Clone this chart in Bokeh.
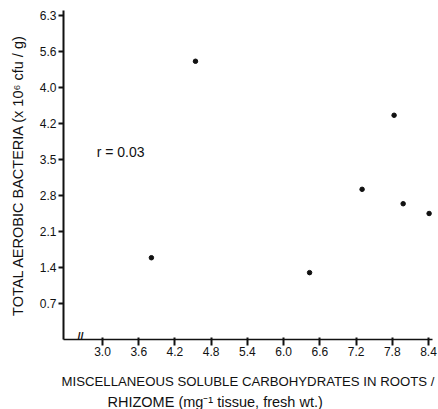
from bokeh.plotting import figure
from bokeh.models import FixedTicker, Label, Range1d, Title, LinearAxis
from bokeh.embed import file_html
from bokeh.resources import INLINE

# ---- data ----
carb = [3.81, 4.54, 6.43, 7.30, 7.83, 7.98, 8.41]
bact = [1.59, 5.41, 1.30, 2.92, 4.36, 2.64, 2.45]

x_ticks = [3.0, 3.6, 4.2, 4.8, 5.4, 6.0, 6.6, 7.2, 7.8, 8.4]
x_tick_labels = ["3.0", "3.6", "4.2", "4.8", "5.4", "6.0", "6.6", "7.2", "7.8", "8.4"]
y_ticks = [0.7, 1.4, 2.1, 2.8, 3.5, 4.2, 4.9, 5.6, 6.3]
y_tick_labels = ["0.7", "1.4", "2.1", "2.8", "3.5", "4.2", "4.0", "5.6", "6.3"]

r_text = "r  =  0.03"
x_title_1 = "MISCELLANEOUS SOLUBLE CARBOHYDRATES IN ROOTS /"
x_title_2 = "RHIZOME (mg\u207b\u00b9 tissue, fresh wt.)"
y_title = "TOTAL AEROBIC BACTERIA (x 10\u2076 cfu / g)"

FONT = "Liberation Sans"
INK = "#111111"

p = figure(width=438, height=409, output_backend="svg", toolbar_location=None,
           x_range=Range1d(2.354, 8.466), y_range=Range1d(0, 6.397),
           x_axis_location=None,
           min_border_left=63, min_border_right=6, min_border_top=10,
           min_border_bottom=70)
p.outline_line_color = None
p.grid.visible = False

p.scatter(carb, bact, size=4.5, color=INK)

xa = LinearAxis(ticker=FixedTicker(ticks=x_ticks),
                major_label_overrides={t: l for t, l in zip(x_ticks, x_tick_labels)})
p.add_layout(xa, "below")
ya = p.yaxis[0]
ya.ticker = FixedTicker(ticks=y_ticks)
ya.major_label_overrides = {t: l for t, l in zip(y_ticks, y_tick_labels)}

for ax in (xa, ya):
    ax.major_tick_out = 5
    ax.major_tick_in = 0
    ax.minor_tick_line_color = None
    ax.axis_line_color = INK
    ax.axis_line_width = 2
    ax.major_tick_line_color = INK
    ax.major_tick_line_width = 2
    ax.major_label_text_font = FONT
    ax.major_label_text_font_size = "12px"
    ax.major_label_text_color = INK
    ax.major_label_standoff = 2
    ax.axis_label_text_font = FONT
    ax.axis_label_text_font_style = "normal"
    ax.axis_label_text_color = INK
xa.axis_line_width = 1.5
xa.major_tick_in = 2
xa.major_tick_out = 6
xa.major_label_standoff = 1

xa.axis_label = x_title_1
xa.axis_label_text_font_size = "13.2px"
xa.axis_label_standoff = 15

p.add_layout(Title(text=x_title_2, align="left", offset=44,
                   text_font=FONT, text_font_size="14.5px",
                   text_font_style="normal", text_color=INK,
                   standoff=0), "below")

ya.axis_label = y_title
ya.axis_label_text_font_size = "14.5px"
ya.axis_label_standoff = 11

# correlation annotation
p.add_layout(Label(x=3.364, y=3.636, text=r_text, text_font=FONT,
                   text_font_size="14px", text_align="center",
                   text_baseline="middle", text_color=INK))

# axis break mark
p.add_layout(Label(x=2.636, y=0.06, text="//", text_font=FONT,
                   text_font_size="11px", text_font_style="bold",
                   text_align="center", text_baseline="middle",
                   text_color=INK))

open("out.html", "w").write(file_html(p, INLINE))
